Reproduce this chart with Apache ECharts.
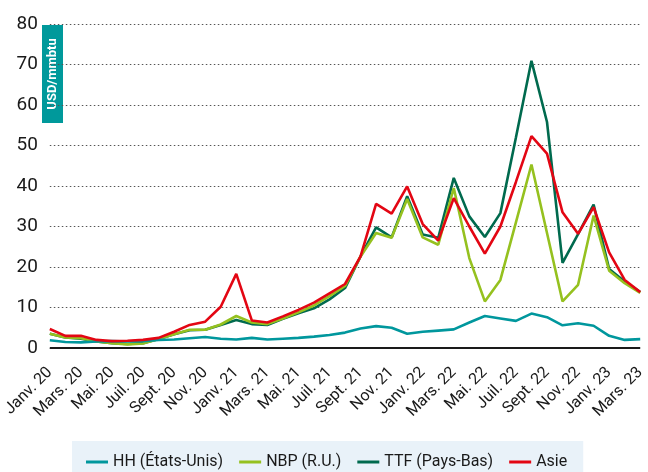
<!DOCTYPE html>
<html>
<head>
<meta charset="utf-8">
<script src="https://cdn.jsdelivr.net/npm/echarts@6/dist/echarts.min.js"></script>
<style>
  html, body { margin: 0; padding: 0; background: #fff; }
  #chart { width: 648px; height: 472px; }
</style>
</head>
<body>
<div id="chart"></div>
<script>
const months = [
  'Janv. 20', 'Févr. 20', 'Mars. 20', 'Avr. 20', 'Mai. 20', 'Juin 20', 'Juil. 20', 'Août 20', 'Sept. 20', 'Oct. 20', 'Nov. 20', 'Déc. 20',
  'Janv. 21', 'Févr. 21', 'Mars. 21', 'Avr. 21', 'Mai. 21', 'Juin 21', 'Juil. 21', 'Août 21', 'Sept. 21', 'Oct. 21', 'Nov. 21', 'Déc. 21',
  'Janv. 22', 'Févr. 22', 'Mars. 22', 'Avr. 22', 'Mai. 22', 'Juin 22', 'Juil. 22', 'Août 22', 'Sept. 22', 'Oct. 22', 'Nov. 22', 'Déc. 22',
  'Janv. 23', 'Févr. 23', 'Mars. 23'
];

const hh = [1.9, 1.5, 1.4, 1.6, 1.7, 1.6, 1.7, 2.0, 2.1, 2.4, 2.7, 2.3,
  2.1, 2.5, 2.1, 2.3, 2.5, 2.8, 3.2, 3.8, 4.8, 5.4, 5.0, 3.5,
  4.0, 4.3, 4.6, 6.3, 7.9, 7.3, 6.7, 8.5, 7.6, 5.6, 6.1, 5.5,
  3.0, 2.0, 2.2];

const nbp = [3.5, 2.6, 2.4, 1.6, 1.2, 0.9, 1.1, 2.2, 3.4, 4.5, 4.5, 5.8,
  7.9, 6.3, 5.9, 7.3, 8.8, 10.5, 12.8, 15.3, 22.6, 28.4, 27.2, 36.8,
  27.3, 25.5, 39.5, 22.2, 11.5, 16.8, 31.0, 45.3, 28.4, 11.5, 15.6, 32.7,
  19.1, 16.0, 13.6];

const ttf = [3.5, 2.6, 2.3, 1.6, 1.2, 1.0, 1.2, 2.2, 3.4, 4.4, 4.5, 5.7,
  6.9, 5.9, 5.7, 7.2, 8.6, 9.8, 12.0, 14.8, 22.6, 29.8, 27.3, 37.5,
  28.0, 27.2, 42.0, 32.5, 27.4, 33.3, 52.0, 70.9, 55.8, 21.0, 28.1, 35.4,
  19.5, 16.4, 13.8];

const asie = [4.7, 3.0, 3.0, 2.0, 1.7, 1.8, 2.0, 2.5, 4.0, 5.7, 6.5, 10.2,
  18.3, 6.8, 6.3, 7.8, 9.4, 11.2, 13.5, 15.8, 22.6, 35.6, 33.2, 39.9,
  30.6, 26.5, 37.0, 30.0, 23.3, 30.0, 41.0, 52.3, 48.0, 33.5, 28.2, 34.8,
  23.6, 16.8, 13.8];

const yTicks = [0, 10, 20, 30, 40, 50, 60, 70, 80];

const seriesDefs = [
  { name: 'HH (États-Unis)', data: hh, color: '#00979d', z: 4 },
  { name: 'NBP (R.U.)', data: nbp, color: '#95c11f', z: 3 },
  { name: 'TTF (Pays-Bas)', data: ttf, color: '#006a4e', z: 2 },
  { name: 'Asie', data: asie, color: '#e30613', z: 5 }
];

const font = "'Roboto', sans-serif";

const chart = echarts.init(document.getElementById('chart'));

chart.setOption({
  animation: false,
  grid: { left: 43, right: 5, top: 24, bottom: 124 },
  xAxis: {
    type: 'category',
    data: months,
    boundaryGap: false,
    axisLine: { show: false },
    axisTick: { show: false },
    axisLabel: {
      interval: 1,
      rotate: 45,
      margin: 22,
      color: '#1a1a1a',
      fontSize: 16,
      fontFamily: font
    },
    splitLine: { show: false }
  },
  yAxis: {
    type: 'value',
    min: yTicks[0],
    max: yTicks[yTicks.length - 1],
    interval: 10,
    axisLine: { show: false },
    axisTick: { show: false },
    axisLabel: {
      color: '#1a1a1a',
      fontSize: 19,
      margin: 12,
      fontFamily: font
    },
    splitLine: {
      lineStyle: { color: '#555', width: 1, type: [1.5, 2.5] }
    }
  },
  legend: {
    data: seriesDefs.map(s => s.name),
    left: 72,
    top: 441,
    backgroundColor: '#e9f2f9',
    padding: [13, 16, 8, 14],
    itemGap: 16,
    itemWidth: 22,
    itemHeight: 3,
    icon: 'rect',
    textStyle: { color: '#1a1a1a', fontSize: 16, fontFamily: font }
  },
  graphic: [
    {
      type: 'group',
      left: 42,
      top: 25,
      children: [
        { type: 'rect', shape: { x: 0, y: 0, width: 21, height: 98 }, style: { fill: '#00999b' } },
        {
          type: 'text',
          x: 10.5,
          y: 49,
          rotation: Math.PI / 2,
          style: {
            text: 'USD/mmbtu',
            fill: '#fff',
            fontSize: 13,
            fontWeight: 'bold',
            fontFamily: font,
            align: 'center',
            verticalAlign: 'middle'
          }
        }
      ]
    }
  ],
  series: seriesDefs.map(s => ({
    name: s.name,
    type: 'line',
    data: s.data,
    z: s.z,
    symbol: 'none',
    lineStyle: { color: s.color, width: 2.6 },
    itemStyle: { color: s.color },
    markLine: s.z === 2 ? {
      silent: true,
      symbol: 'none',
      label: { show: false },
      lineStyle: { color: '#1a1a1a', width: 2, type: 'solid' },
      data: [{ yAxis: 0 }]
    } : undefined
  }))
});
</script>
</body>
</html>
